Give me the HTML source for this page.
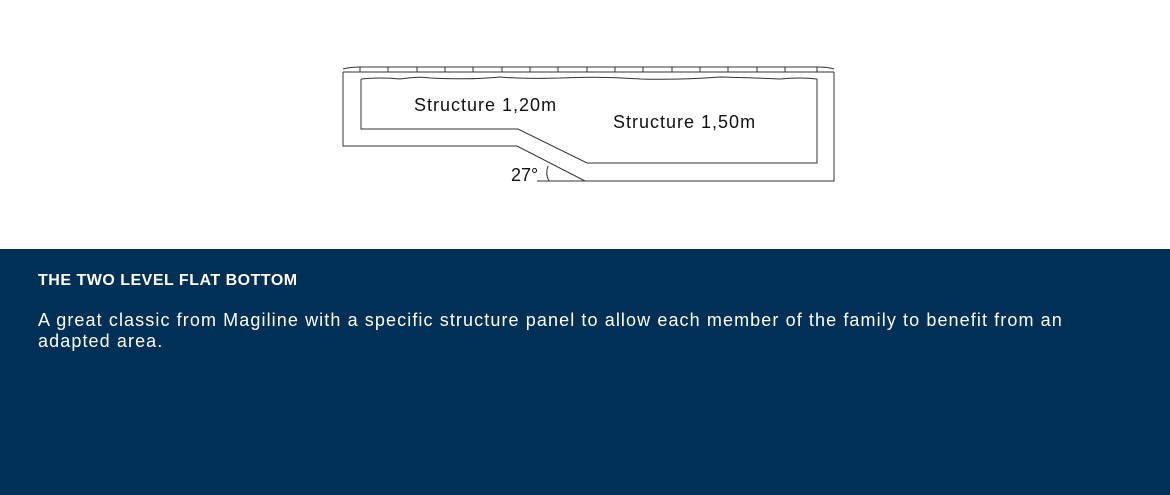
<!DOCTYPE html>
<html><head><meta charset="utf-8"><style>
body{margin:0;width:1170px;height:495px;background:#fff;font-family:"Liberation Sans",sans-serif;overflow:hidden;position:relative}
svg{position:absolute;left:0;top:0}
.band{position:absolute;left:0;top:249px;width:1170px;height:246px;background:#003055;color:#fff}
h1{position:absolute;left:38px;top:272px;margin:0;font-size:16px;font-weight:bold;color:#fff;letter-spacing:0.5px}
p{position:absolute;left:38px;top:310px;margin:0;width:1070px;font-size:18px;line-height:21px;color:#fff;letter-spacing:1.1px}
</style></head><body>
<svg width="1170" height="249" viewBox="0 0 1170 249">
<g fill="none" stroke="#333" stroke-width="1">
<path d="M343 72 L343 146 L517 146 L585 181 L834 181 L834 72"/>
<path d="M361 79 L361 129 L518 129 L587 163 L817 163 L817 79"/>
<path d="M343 72 L834 72"/>
<path d="M343 69 Q350 67 360 67 L817 67 Q828 67 834 69"/>
<path d="M361 79 Q380 77 400 79 Q420 76 430 78 Q470 80 500 77 Q520 79 560 78 Q600 76 640 79 Q680 80 720 77 Q760 78 780 79 Q800 77 817 79"/>
<path d="M537 181 L585 181"/>
<path d="M548 166 Q545 174 549 181"/>
<path d="M360 67V72M388 67V72M417 67V72M445 67V72M473 67V72M502 67V72M530 67V72M558 67V72M587 67V72M615 67V72M643 67V72M672 67V72M700 67V72M728 67V72M757 67V72M785 67V72M817 67V72"/>
</g>
<g font-family="Liberation Sans, sans-serif" font-size="18" fill="#111" letter-spacing="1">
<text x="414" y="111">Structure 1,20m</text>
<text x="613" y="128">Structure 1,50m</text>
<text x="511" y="181" letter-spacing="0">27°</text>
</g>
</svg>
<div class="band"></div>
<h1>THE TWO LEVEL FLAT BOTTOM</h1>
<p>A great classic from Magiline with a specific structure panel to allow each member of the family to benefit from an adapted area.</p>
</body></html>
